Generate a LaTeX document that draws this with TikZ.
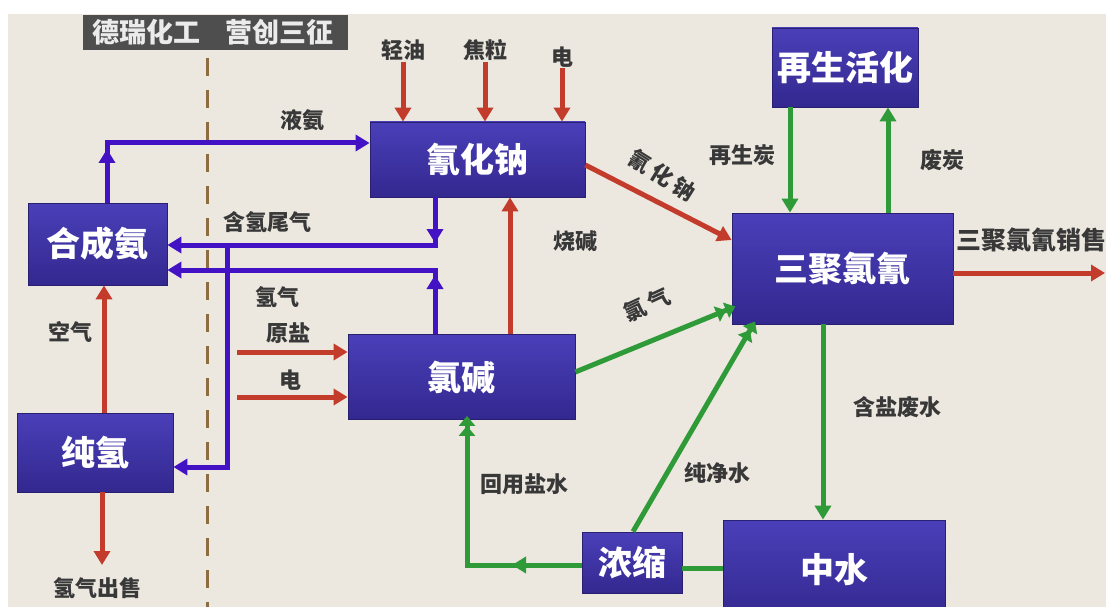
\documentclass[tikz,border=0pt]{standalone}
\usepackage{fontspec}
\setmainfont{Noto Sans CJK SC}
\usetikzlibrary{arrows.meta,calc}
\definecolor{bgc}{HTML}{ECE8E0}
\definecolor{boxtop}{HTML}{4A3FB8}
\definecolor{boxbot}{HTML}{33288F}
\definecolor{purc}{HTML}{4212C4}
\definecolor{redc}{HTML}{C33B2A}
\definecolor{grnc}{HTML}{2F9A38}
\definecolor{labc}{HTML}{383838}
\definecolor{hdrc}{HTML}{4E4E4E}
\definecolor{dashc}{HTML}{8C6C40}
\begin{document}
\begin{tikzpicture}[x=1pt,y=-1pt,
  box/.style={draw=boxbot!80!black, line width=0.8pt, top color=boxtop, bottom color=boxbot, text=white,
    font=\fontsize{34}{38}\selectfont\bfseries, inner sep=0pt},
  hdr/.style={fill=hdrc, text=white!92!black, font=\fontsize{27}{30}\selectfont\bfseries, inner sep=0pt, anchor=north west, minimum height=35pt},
  lab/.style={text=labc, font=\fontsize{22}{24}\selectfont\bfseries, inner sep=1pt},
  arr/.style={-{Triangle[length=14pt,width=16pt]}},
  darr/.style={-{Triangle[length=10pt,width=16pt] Triangle[length=10pt,width=16pt,sep=-4pt]}},
  pur/.style={draw=purc, line width=5pt},
  rd/.style={draw=redc, line width=5pt},
  grn/.style={draw=grnc, line width=5pt},
  dashline/.style={draw=dashc, line width=3pt, dash pattern=on 18pt off 14pt}
]
\useasboundingbox (0,0) rectangle (1106,607);
\fill[white] (0,0) rectangle (1106,607);
\fill[bgc] (8,14) rectangle (1106,607);

% header
\node[hdr, minimum width=127pt] (hdrL) at (83,15) {德瑞化工};
\node[hdr, minimum width=138pt] (hdrR) at (210,15) {营创三征};
\coordinate (dtop) at (207,58);
\coordinate (dbot) at (207,607);
\draw[dashline] (dtop) -- (dbot);

% boxes
\node[box, minimum width=215pt, minimum height=75pt] (nacn) at (477.5,159.5) {氰化钠};
\node[box, minimum width=146pt, minimum height=79pt] (zaisheng) at (845,67.5) {再生活化};
\node[box, minimum width=221pt, minimum height=111pt] (sanju) at (842.5,268.5) {三聚氯氰};
\node[box, minimum width=139pt, minimum height=82pt] (hecheng) at (97.5,244) {合成氨};
\node[box, minimum width=156pt, minimum height=79pt] (chunqing) at (95,452.5) {纯氢};
\node[box, minimum width=227pt, minimum height=85pt] (lujian) at (461.5,377) {氯碱};
\node[box, minimum width=100pt, minimum height=61pt] (nongsuo) at (632,562.5) {浓缩};
\node[box, minimum width=222pt, minimum height=100pt] (zhongshui) at (834,570) {中水};

% labels
\node[lab] (qy) at (403,50) {轻油};
\node[lab] (jl) at (485,50) {焦粒};
\node[lab] (dian1) at (562,57) {电};
\node[lab] (yean) at (302,120) {液氨};
\node[lab] (hqwq) at (267,222) {含氢尾气};
\node[lab] (qq) at (277,297) {氢气};
\node[lab] (ys) at (288,333) {原盐};
\node[lab] (dian2) at (290,380) {电};
\node[lab] (kq) at (70,332) {空气};
\node[lab] (qqcs) at (97,588) {氢气出售};
\node[lab] (sj) at (575,241) {烧碱};
\node[lab, rotate=-32] (qhn) at (662,175) {氰\hspace{4pt}化\hspace{4pt}钠};
\node[lab, rotate=25] (lq) at (647,305) {氯\hspace{4pt}气};
\node[lab] (zst) at (742,155) {再生炭};
\node[lab] (ft) at (942,160) {废炭};
\node[lab, anchor=west, font=\fontsize{25}{28}\selectfont\bfseries] (sjxs) at (955,240) {三聚氯氰销售};
\node[lab] (hyys) at (524,484) {回用盐水};
\node[lab] (cjs) at (717,473) {纯净水};
\node[lab] (hyfs) at (897,407) {含盐废水};

% purple connectors
\coordinate (p1) at (107,143);
\draw[pur,arr] (hecheng.north -| p1) |- (nacn.west |- p1);
\draw[pur,arr] (hecheng.north -| p1) -- ($(p1)+(0,6)$);
\coordinate (p2) at (435,245);
\draw[pur,arr] (nacn.south -| p2) |- (hecheng.east |- p2);
\draw[pur,arr] (nacn.south -| p2) -- ($(p2)+(0,-2)$);
\coordinate (p3) at (227,245);
\coordinate (p4) at (227,467);
\draw[pur,arr] (p3) |- (chunqing.east |- p4);
\coordinate (p5) at (435,270);
\draw[pur,arr] (lujian.north -| p5) |- (hecheng.east |- p5);
\draw[pur,arr] (lujian.north -| p5) -- ($(p5)+(0,5)$);

% red connectors
\draw[rd,arr] (qy.south) -- (nacn.north -| qy.south);
\draw[rd,arr] (jl.south) -- (nacn.north -| jl.south);
\draw[rd,arr] (dian1.south) -- (nacn.north -| dian1.south);
\coordinate (r1) at (585,165);
\coordinate (r2) at (733,240);
\draw[rd,arr] (nacn.east |- r1) -- (sanju.west |- r2);
\coordinate (r3) at (510,300);
\draw[rd,arr] (lujian.north -| r3) -- (nacn.south -| r3);
\coordinate (r4) at (237,352);
\draw[rd,arr] (r4) -- (lujian.west |- r4);
\coordinate (r5) at (237,397);
\draw[rd,arr] (r5) -- (lujian.west |- r5);
\coordinate (r6) at (104,350);
\draw[rd,arr] (chunqing.north -| r6) -- (hecheng.south -| r6);
\coordinate (r7) at (102,565);
\draw[rd,arr] (chunqing.south -| r7) -- (r7);
\coordinate (r8) at (1105,273);
\draw[rd,arr] (sanju.east |- r8) -- (r8);

% green connectors
\coordinate (g1) at (790,150);
\draw[grn,arr] (zaisheng.south -| g1) -- (sanju.north -| g1);
\coordinate (g2) at (888,150);
\draw[grn,arr] (sanju.north -| g2) -- (zaisheng.south -| g2);
\coordinate (g3) at (575,372);
\coordinate (g4) at (733,308);
\draw[grn,darr] (lujian.east |- g3) -- (sanju.west |- g4);
\coordinate (g5) at (633,500);
\coordinate (g6) at (753,325);
\draw[grn,darr] (nongsuo.north -| g5) -- (g6);
\coordinate (g7) at (823,400);
\draw[grn,arr] (sanju.south -| g7) -- (zhongshui.north -| g7);
\coordinate (g8) at (700,568);
\draw[grn] (zhongshui.west |- g8) -- (nongsuo.east |- g8);
\coordinate (g9) at (467,565);
\coordinate (g10) at (512,565);
\draw[grn,darr] (nongsuo.west |- g9) -| (lujian.south -| g9);
\draw[grn,arr] (nongsuo.west |- g9) -- (g10);
\end{tikzpicture}
\end{document}
